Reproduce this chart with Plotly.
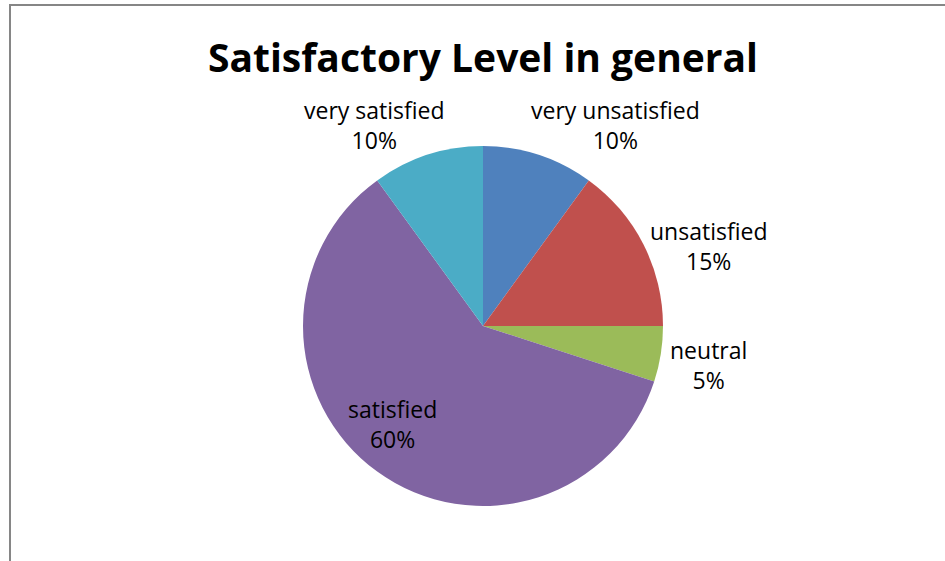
import math
import plotly.graph_objects as go

categories = ["very unsatisfied", "unsatisfied", "neutral", "satisfied", "very satisfied"]
values = [10, 15, 5, 60, 10]
colors = ["#4F81BD", "#C0504D", "#9BBB59", "#8064A2", "#4BACC6"]
title_text = "Satisfactory Level in general"

W, H = 945, 561
cx, cy, R = 483, 326, 180
FONT = "Open Sans"
LABEL_SIZE = 23
inside_label = "satisfied"
# small pixel nudges for the label boxes (styling, Excel "best fit" look)
label_nudge = {
    "very unsatisfied": (-10, -3),
    "unsatisfied": (5, -2),
    "neutral": (7, -11),
    "satisfied": (-11, 11),
    "very satisfied": (20, -3),
}

total = sum(values)

fig = go.Figure(go.Pie(
    labels=categories,
    values=values,
    sort=False,
    direction="clockwise",
    rotation=0,
    marker=dict(colors=colors, line=dict(width=0)),
    textinfo="none",
    showlegend=False,
    hoverinfo="label+percent",
    domain=dict(x=[(cx - R) / W, (cx + R) / W], y=[(H - cy - R) / H, (H - cy + R) / H]),
))

# data labels placed from each slice's mid-angle
annotations = []
cum = 0
for c, v in zip(categories, values):
    mid = (cum + v / 2) / total * 2 * math.pi
    cum += v
    s, co = math.sin(mid), math.cos(mid)
    if c == inside_label:
        px, py = cx + 0.75 * R * s, cy - 0.75 * R * co
        xa, ya = "center", "middle"
    else:
        px, py = cx + R * s, cy - R * co
        xa = "left" if s > 0 else "right"
        ya = "bottom" if co > 0.7 else "middle"
    dx, dy = label_nudge.get(c, (0, 0))
    annotations.append(dict(
        x=px / W, y=1 - py / H, xref="paper", yref="paper", showarrow=False,
        text=f"{c}<br>{round(v / total * 100)}%",
        font=dict(family=FONT, size=LABEL_SIZE, color="#000000"),
        xanchor=xa, yanchor=ya, xshift=dx, yshift=dy))

fig.update_layout(
    width=W, height=H,
    margin=dict(l=0, r=0, t=0, b=0),
    paper_bgcolor="white",
    title=dict(text="<b>" + title_text + "</b>", x=483 / W, xanchor="center",
               y=1 - 58 / H, yanchor="middle",
               font=dict(family=FONT, size=39, color="#000000")),
    annotations=annotations,
    shapes=[dict(type="rect", xref="paper", yref="paper",
                 x0=10 / W, x1=1.05, y0=-0.05, y1=1 - 5 / H,
                 line=dict(color="#868686", width=2), fillcolor="rgba(0,0,0,0)")],
)

fig.write_html("out.html", config={"displayModeBar": False},
               post_script="document.body.style.margin='0';")
